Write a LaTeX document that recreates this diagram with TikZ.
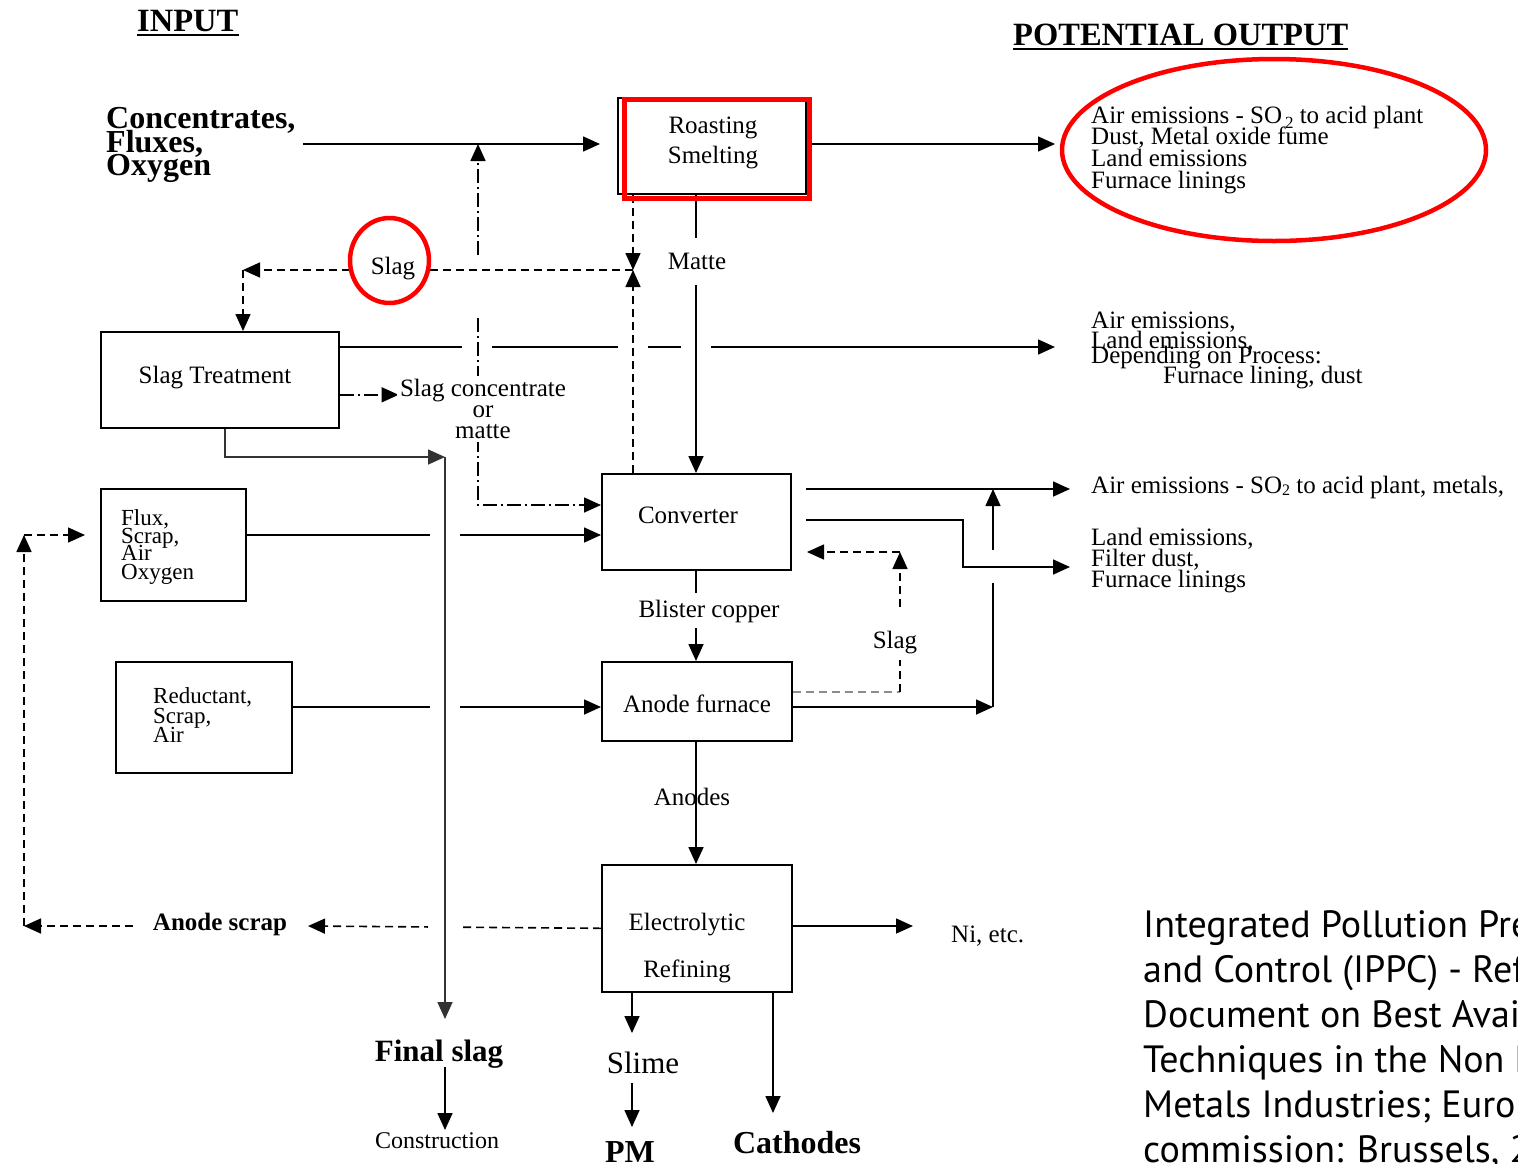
\documentclass[tikz,border=0pt]{standalone}
\usepackage{fontspec}
\setmainfont{Liberation Serif}
\newfontfamily\citefont{PT Sans}
\usetikzlibrary{arrows.meta,calc}

\newcommand\fsz[2]{\fontsize{#1}{#2}\selectfont}
\newcommand\subtwo{\raisebox{-5pt}{\fsz{17}{17}\,2}}
\newcommand\subtwob{\raisebox{-2pt}{\fsz{16}{16}2}}

\tikzset{
  box/.style={draw, line width=1.6pt, inner sep=0pt, anchor=north west},
  lbl/.style={inner sep=0pt, font=\fsz{25}{25}},
  smalltxt/.style={inner sep=0pt, font=\fsz{23}{23}},
  boldtxt/.style={inner sep=0pt, font=\fsz{31}{31}\bfseries},
  headtxt/.style={inner sep=0pt, font=\fsz{32.5}{32.5}\bfseries},
  citetxt/.style={inner sep=0pt, font=\citefont\fsz{38}{38}, anchor=base west},
  plain/.style={line width=1.6pt},
  flow/.style={line width=1.6pt, -{Triangle[length=17pt,width=15pt]}},
  dsh/.style={dash pattern=on 8pt off 5pt},
  dshdot/.style={dash pattern=on 14pt off 4pt on 2pt off 4pt},
  redmark/.style={draw=red, line width=4.5pt},
  gapfill/.style={fill=white, draw=none},
}

\begin{document}
\begin{tikzpicture}[x=1pt,y=-1pt]
\useasboundingbox (0,0) rectangle (1518,1163);
\clip (0,0) rectangle (1518,1163);

% headings
\node[headtxt, anchor=base west] (input) at (137,31) {INPUT};
\node[headtxt, anchor=base west] (potout) at (1013,45) {POTENTIAL OUTPUT};
\draw[line width=2.4pt] ($(input.base west)+(0,4)$) -- ($(input.base east)+(0,4)$);
\draw[line width=2.4pt] ($(potout.base west)+(0,4)$) -- ($(potout.base east)+(0,4)$);

% process boxes
\node[box, minimum width=188pt, minimum height=96pt] (roast) at (617,97) {};
\node[box, minimum width=238pt, minimum height=96pt] (st) at (100,331) {};
\node[box, minimum width=145pt, minimum height=112pt] (flux) at (100,488) {};
\node[box, minimum width=176pt, minimum height=111pt] (redu) at (115,661) {};
\node[box, minimum width=189pt, minimum height=96pt] (conv) at (601,473) {};
\node[box, minimum width=190pt, minimum height=79pt] (af) at (601,661) {};
\node[box, minimum width=190pt, minimum height=127pt] (er) at (601,864) {};

% box texts
\node[lbl, anchor=base] (roast1) at (713,133) {Roasting};
\node[lbl, anchor=base] (roast2) at (713,163) {Smelting};
\node[lbl, anchor=base] (sttxt) at (215,383) {Slag Treatment};
\node[lbl, anchor=base] (convtxt) at (688,523) {Converter};
\node[lbl, anchor=base] (aftxt) at (697,712) {Anode furnace};
\node[lbl, anchor=base] (er1) at (687,930) {Electrolytic};
\node[lbl, anchor=base] (er2) at (687,977) {Refining};
\foreach \t/\yy [count=\i] in {{Flux,}/525, {Scrap,}/543, Air/560, Oxygen/579}
  \node[smalltxt, anchor=base west] (flux\i) at (121,\yy) {\t};
\foreach \t/\yy [count=\i] in {{Reductant,}/703, {Scrap,}/723, Air/742}
  \node[smalltxt, anchor=base west] (redu\i) at (153,\yy) {\t};

% feed
\foreach \t/\yy [count=\i] in {{Concentrates,}/128, {Fluxes,}/152, Oxygen/175}
  \node[boldtxt, font=\fsz{32}{32}\bfseries, anchor=base west] (conc\i) at (106,\yy) {\t};

% potential output
\foreach \t/\yy [count=\i] in {{Air emissions - SO\subtwo{} to acid plant}/123, {Dust, Metal oxide fume}/144, {Land emissions}/166, {Furnace linings}/188}
  \node[lbl, anchor=base west] (outa\i) at (1091,\yy) {\t};
\foreach \t/\yy [count=\i] in {{Air emissions,}/328, {Land emissions,}/348, {Depending on Process:}/363}
  \node[lbl, anchor=base west] (outb\i) at (1091,\yy) {\t};
\node[lbl, anchor=base west] (outb4) at (1163,383) {Furnace lining, dust};
\node[lbl, anchor=base west] (outc) at (1091,493) {Air emissions - SO\subtwob{} to acid plant, metals,};
\foreach \t/\yy [count=\i] in {{Land emissions,}/545, {Filter dust,}/566, {Furnace linings}/587}
  \node[lbl, anchor=base west] (outd\i) at (1091,\yy) {\t};

% flow labels
\node[lbl, anchor=base] (slag) at (393,274) {Slag};
\node[lbl, anchor=base] (matte) at (697,269) {Matte};
\node[lbl, anchor=base] (bcu) at (709,617) {Blister copper};
\node[lbl, anchor=base] (anodes) at (692,805) {Anodes};
\node[lbl, anchor=base] (slagb) at (895,648) {Slag};
\node[lbl, anchor=base west] (ni) at (951,942) {Ni, etc.};
\node[boldtxt, anchor=base] (fslag) at (439,1061) {Final slag};
\node[lbl, font=\fsz{24}{24}, anchor=base] (constr) at (437,1148) {Construction};
\node[lbl, font=\fsz{31}{31}, anchor=base] (slime) at (643,1073) {Slime};
\node[boldtxt, font=\fsz{32}{32}\bfseries, anchor=base] (pm) at (630,1162) {PM};
\node[boldtxt, font=\fsz{32}{32}\bfseries, anchor=base] (cath) at (797,1153) {Cathodes};
\node[lbl, font=\fsz{25}{25}\bfseries, anchor=base] (ascrap) at (220,930) {Anode scrap};

% end points and bends
\coordinate (feedout) at (303,144);
\coordinate (outain) at (1055,144);
\coordinate (ddup) at (478,255);
\coordinate (dddown) at (478,318);
\coordinate (ddbend) at (478,505);
\coordinate (slagL) at (350,270);
\coordinate (slagR) at (430,270);
\coordinate (slagbend) at (243,270);
\coordinate (slagmeet) at (633,270);
\coordinate (stout) at (338,347);
\coordinate (outbin) at (1055,347);
\coordinate (fsbend) at (445,457);
\coordinate (fsend) at (445,1019);
\coordinate (cvhi) at (806,489);
\coordinate (outcin) at (1070,489);
\coordinate (cvlo) at (806,520);
\coordinate (outdin) at (1070,567);
\coordinate (afrise) at (993,707);
\coordinate (afslag) at (900,692);
\coordinate (cvslag) at (807,552);
\coordinate (scrapend) at (24,926);
\coordinate (fluxin) at (24,535);

% roasting
\draw[flow, shorten >=17pt] (feedout) -- (feedout -| roast.west);
\draw[flow] (roast.east |- outain) -- (outain);
\draw[flow, dshdot] (ddup) -- (ddup |- feedout);
\draw[flow, dsh] (slagL) -- (slagbend);
\draw[flow, dsh] (slagbend) -- (slagbend |- st.north);
\draw[plain, dsh] (slagR) -- (slagmeet);
\draw[flow, dsh] (roast.south -| slagmeet) -- (slagmeet);

% slag treatment outputs
\draw[flow] (stout) -- (outbin);
\foreach \gx in {477,633,696}
  \fill[gapfill] (\gx-15,342) rectangle (\gx+15,352);
\draw[flow, dsh] (conv.north -| slagmeet) -- (slagmeet);
\draw[plain] (roast.south -| 696,0) -- (696,238);
\draw[flow] (696,285) -- (conv.north -| 696,0);
\draw[flow, dshdot] ($(st.east)+(0,15)$) -- ++(59,0) coordinate (sconcin);
\draw[flow, dshdot] (dddown) -- (ddbend) -- (ddbend -| conv.west);
\node[lbl, fill=white, inner sep=3pt, align=center, font=\fsz{25}{21}] (sconc) at (483,409) {Slag concentrate\\or\\matte};

% inputs crossing the final slag line
\draw[flow] (flux.east |- fluxin) -- (fluxin -| conv.west);
\draw[flow] (redu.east |- afrise) -- (afrise -| af.west);
\draw[flow, dsh] (er.west) -- (308,926);
\foreach \gy/\gw in {535/15, 707/15, 926/17}
  \fill[gapfill] (445-\gw,\gy-6) rectangle (445+\gw,\gy+6);
\draw[flow, black!80] (st.south -| 225,0) |- (fsbend);
\draw[flow, black!80] (fsbend) -- (fsend);
\draw[flow] (fsbend |- 0,1067) -- (fsbend |- 0,1130);
\draw[flow, dsh] (133,926) -- (scrapend);
\draw[flow, dsh] (scrapend) -- (fluxin);
\draw[flow, dsh] (fluxin) -- ++(61,0);

% converter and anode furnace
\draw[plain] (conv.south -| 696,0) -- (696,593);
\draw[flow] (696,628) -- (af.north -| 696,0);
\draw[flow] (af.south -| 696,0) -- (er.north -| 696,0);
\draw[flow] (cvhi) -- (outcin);
\draw[flow] (af.east |- afrise) -- (afrise);
\draw[flow] (afrise) -- (afrise |- cvhi);
\fill[gapfill] (986,550) rectangle (1000,583);
\draw[flow] (cvlo) -- (963,520) |- (outdin);
\draw[plain, dsh, black!45] (af.east |- afslag) -- (afslag);
\draw[plain, dsh] (afslag) -- (900,660);
\draw[flow, dsh] (900,607) -- (afslag |- cvslag);
\draw[flow, dsh] (afslag |- cvslag) -- (cvslag);

% electrolytic refining outputs
\draw[flow] (er.east |- 0,926) -- (913,926);
\draw[flow] (er.south -| 632,0) -- (632,1033);
\draw[flow] (632,1083) -- (632,1127);
\draw[flow] (er.south -| 773,0) -- (773,1113);

% highlights
\node[redmark, minimum width=185pt, minimum height=99pt, inner sep=0pt, anchor=north west] (roasthl) at (622,97) {};
\draw[redmark] (1274,150) ellipse [x radius=212pt, y radius=91pt];
\draw[redmark] (389.5,260.5) ellipse [x radius=39.5pt, y radius=42.5pt];

% source
\foreach \t [count=\i] in {Integrated Pollution Prevention, and Control (IPPC) - Reference, Document on Best Available, Techniques in the Non Ferrous, {Metals Industries; European}, {commission: Brussels, 2001}}
  \node[citetxt] (cite\i) at (1143,{937+45*(\i-1)}) {\t};
\end{tikzpicture}
\end{document}
